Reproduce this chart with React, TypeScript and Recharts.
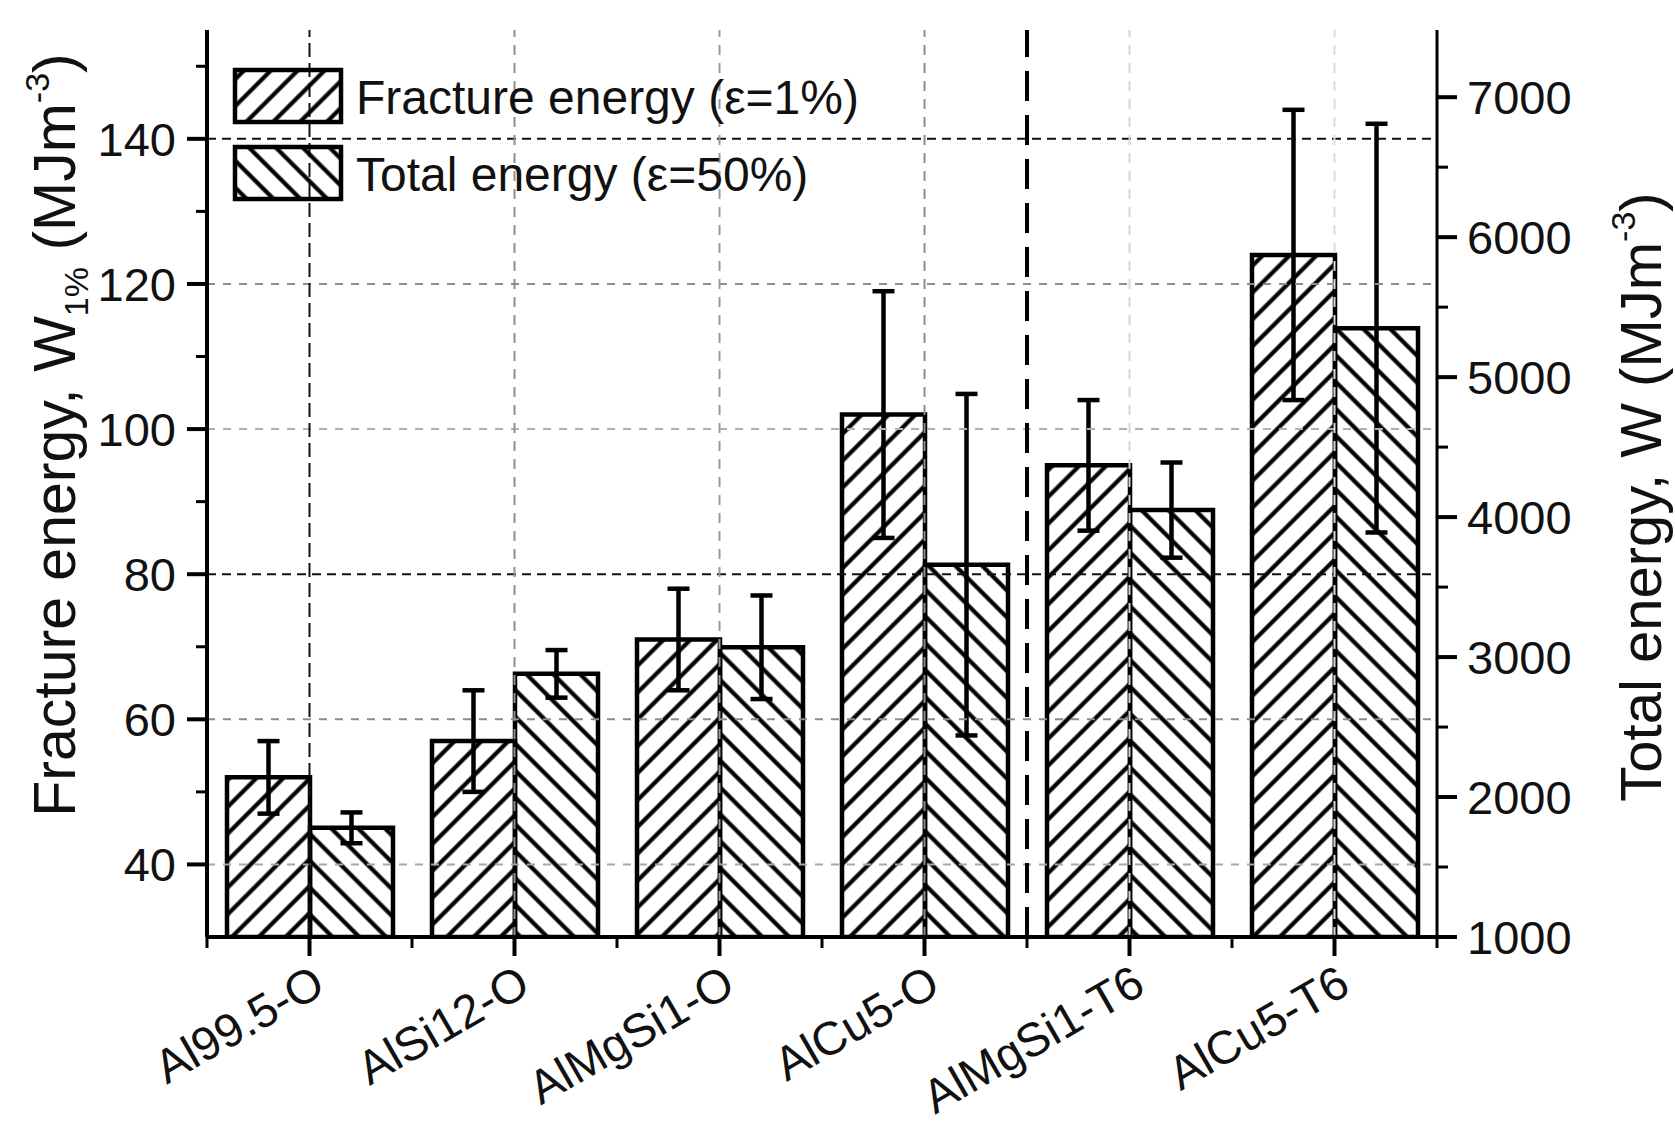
import {
  Bar,
  ComposedChart,
  ErrorBar,
  Legend,
  ReferenceLine,
  XAxis,
  YAxis,
} from "recharts";

const alloys = ["Al99.5-O", "AlSi12-O", "AlMgSi1-O", "AlCu5-O", "AlMgSi1-T6", "AlCu5-T6"];
const fractureEnergy = [52, 57, 71, 102, 95, 124];
const fractureError = [5, 7, 7, 17, 9, 20];
const totalEnergy = [1780, 2880, 3070, 3660, 4050, 5350];
const totalError = [110, 170, 370, 1220, 340, 1460];

const leftTicks = [40, 50, 60, 70, 80, 90, 100, 110, 120, 130, 140, 150];
const leftLabels = [40, 60, 80, 100, 120, 140];
const rightTicks = [1000, 1500, 2000, 2500, 3000, 3500, 4000, 4500, 5000, 5500, 6000, 6500, 7000];
const rightLabels = [1000, 2000, 3000, 4000, 5000, 6000, 7000];

// the alloy groups left of this one are "-O", right of it heat treated
const separatorAfter = "AlCu5-O";

const data = alloys.map((alloy, i) => ({
  alloy,
  fracture: fractureEnergy[i],
  fractureErr: fractureError[i],
  total: totalEnergy[i],
  totalErr: totalError[i],
}));

const W = 1675;
const H = 1127;
const PLOT_LEFT = 207;
const PLOT_RIGHT = 1437;
const PLOT_TOP = 30;
const PLOT_BOTTOM = 937;
const BAND = (PLOT_RIGHT - PLOT_LEFT) / alloys.length;
const FONT = '"Liberation Sans", Arial, Helvetica, sans-serif';
const INK = "#111";

// grid line looks, picked per line to match the scan
const hGrid: Record<number, string> = { 40: "#a8a8a8", 60: "#8c8c8c", 80: "#111", 100: "#b0b0b0", 120: "#8c8c8c", 140: "#111" };
const vGrid = ["#111", "#909090", "#9a9a9a", "#8c8c8c", "#d6d6d6", "#dcdcdc"];

function Hatch({ id, angle }: { id: string; angle: number }) {
  return (
    <pattern id={id} width={19} height={19} patternUnits="userSpaceOnUse" patternTransform={`rotate(${angle})`}>
      <line x1={9.5} y1={-2} x2={9.5} y2={21} stroke="#000" strokeWidth={4.2} />
    </pattern>
  );
}

function LeftTick(props: any) {
  const { payload } = props;
  const y = payload.coordinate;
  const major = leftLabels.includes(payload.value);
  return (
    <g>
      <line x1={PLOT_LEFT} x2={PLOT_LEFT - (major ? 20 : 11)} y1={y} y2={y} stroke="#000" strokeWidth={major ? 4 : 3} />
      {major && (
        <text x={PLOT_LEFT - 31} y={y} dy="0.36em" textAnchor="end" fontSize={47} fill={INK} fontFamily={FONT}>
          {payload.value}
        </text>
      )}
    </g>
  );
}

function RightTick(props: any) {
  const { payload } = props;
  const y = payload.coordinate;
  const major = rightLabels.includes(payload.value);
  return (
    <g>
      <line x1={PLOT_RIGHT} x2={PLOT_RIGHT + (major ? 20 : 11)} y1={y} y2={y} stroke="#000" strokeWidth={major ? 4 : 3} />
      {major && (
        <text x={PLOT_RIGHT + 30} y={y} dy="0.36em" textAnchor="start" fontSize={47} fill={INK} fontFamily={FONT}>
          {payload.value}
        </text>
      )}
    </g>
  );
}

function BottomTick(props: any) {
  const { payload, index } = props;
  const cx = payload.coordinate;
  const tx = cx + 18;
  const ty = PLOT_BOTTOM + 55;
  return (
    <g>
      <line x1={cx} x2={cx} y1={PLOT_BOTTOM} y2={PLOT_BOTTOM + 19} stroke="#000" strokeWidth={4} />
      <line x1={cx - BAND / 2} x2={cx - BAND / 2} y1={PLOT_BOTTOM} y2={PLOT_BOTTOM + 11} stroke="#000" strokeWidth={3} />
      {index === alloys.length - 1 && (
        <line x1={cx + BAND / 2} x2={cx + BAND / 2} y1={PLOT_BOTTOM} y2={PLOT_BOTTOM + 11} stroke="#000" strokeWidth={3} />
      )}
      <text x={tx} y={ty} textAnchor="end" transform={`rotate(-30 ${tx} ${ty})`} fontSize={47} fill={INK} fontFamily={FONT}>
        {payload.value}
      </text>
    </g>
  );
}

function TopTick(props: any) {
  const { payload } = props;
  const cx = payload.coordinate;
  return (
    <g>
      <line x1={cx} x2={cx} y1={PLOT_TOP} y2={PLOT_TOP + 18} stroke="#000" strokeWidth={4} />
      <line x1={cx - BAND / 2} x2={cx - BAND / 2} y1={PLOT_TOP} y2={PLOT_TOP + 11} stroke="#000" strokeWidth={3} />
    </g>
  );
}

function LeftTitle() {
  const x = 75;
  const y = 435;
  return (
    <text x={x} y={y} transform={`rotate(-90 ${x} ${y})`} textAnchor="middle" fontSize={59} fill={INK} fontFamily={FONT}>
      Fracture energy, W
      <tspan fontSize={34} dy={13}>1%</tspan>
      <tspan dy={-13}> (MJm</tspan>
      <tspan fontSize={34} dy={-26}>-3</tspan>
      <tspan dy={26}>)</tspan>
    </text>
  );
}

function RightTitle() {
  const x = 1661;
  const y = 497;
  return (
    <text x={x} y={y} transform={`rotate(-90 ${x} ${y})`} textAnchor="middle" fontSize={58} fill={INK} fontFamily={FONT}>
      Total energy, W (MJm
      <tspan fontSize={34} dy={-26}>-3</tspan>
      <tspan dy={26}>)</tspan>
    </text>
  );
}

function LegendBox(props: any) {
  const items = props.payload ?? [];
  return (
    <svg width={600} height={140} style={{ overflow: "visible" }}>
      <defs>
        <Hatch id="legendFracture" angle={45} />
        <Hatch id="legendTotal" angle={-45} />
      </defs>
      {items.map((item: any, i: number) => (
        <g key={item.value} transform={`translate(0 ${i * 77})`}>
          <rect
            x={2}
            y={2}
            width={106}
            height={52}
            fill={item.dataKey === "fracture" ? "url(#legendFracture)" : "url(#legendTotal)"}
            stroke="#000"
            strokeWidth={4.5}
          />
          <text x={123} y={29} dy="0.36em" fontSize={48} fill={INK} fontFamily={FONT}>
            {item.value}
          </text>
        </g>
      ))}
    </svg>
  );
}

export default function App() {
  return (
    <div style={{ position: "absolute", left: 0, top: 0, width: W, height: H, background: "#fff" }}>
      <ComposedChart
        width={W}
        height={H}
        data={data}
        margin={{ top: PLOT_TOP, right: 0, bottom: 0, left: 0 }}
        barCategoryGap={20}
        barGap={0}
        style={{ fontFamily: FONT }}
      >
        <defs>
          <Hatch id="hatchFracture" angle={45} />
          <Hatch id="hatchTotal" angle={-45} />
        </defs>
        <XAxis
          xAxisId="bottom"
          dataKey="alloy"
          height={H - PLOT_BOTTOM}
          interval={0}
          tickLine={false}
          tick={<BottomTick />}
          axisLine={{ stroke: "#000", strokeWidth: 4 }}
        />
        <XAxis
          xAxisId="top"
          orientation="top"
          dataKey="alloy"
          height={0}
          interval={0}
          tickLine={false}
          tick={<TopTick />}
          axisLine={{ stroke: "#000", strokeWidth: 4 }}
        />
        <YAxis
          yAxisId="left"
          width={PLOT_LEFT}
          domain={[30, 155]}
          allowDataOverflow
          ticks={leftTicks}
          interval={0}
          tickLine={false}
          tick={<LeftTick />}
          axisLine={{ stroke: "#000", strokeWidth: 4 }}
          label={<LeftTitle />}
        />
        <YAxis
          yAxisId="right"
          orientation="right"
          width={W - PLOT_RIGHT}
          domain={[1000, 7480]}
          allowDataOverflow
          ticks={rightTicks}
          interval={0}
          tickLine={false}
          tick={<RightTick />}
          axisLine={{ stroke: "#000", strokeWidth: 3 }}
          label={<RightTitle />}
        />
        <Bar
          xAxisId="bottom"
          yAxisId="left"
          dataKey="fracture"
          name="Fracture energy (ε=1%)"
          fill="url(#hatchFracture)"
          stroke="#000"
          strokeWidth={4.5}
          isAnimationActive={false}
        >
          <ErrorBar dataKey="fractureErr" direction="y" width={11} stroke="#000" strokeWidth={4.5} />
        </Bar>
        <Bar
          xAxisId="bottom"
          yAxisId="right"
          dataKey="total"
          name="Total energy (ε=50%)"
          fill="url(#hatchTotal)"
          stroke="#000"
          strokeWidth={4.5}
          isAnimationActive={false}
        >
          <ErrorBar dataKey="totalErr" direction="y" width={11} stroke="#000" strokeWidth={4.5} />
        </Bar>
        {leftLabels.map((v) => (
          <ReferenceLine
            key={`h${v}`}
            xAxisId="bottom"
            yAxisId="left"
            y={v}
            stroke={hGrid[v]}
            strokeWidth={2}
            strokeDasharray={hGrid[v] === "#111" ? "9 6" : "8 8"}
          />
        ))}
        {alloys.map((a, i) => (
          <ReferenceLine
            key={`v${a}`}
            xAxisId="bottom"
            yAxisId="left"
            x={a}
            stroke={vGrid[i]}
            strokeWidth={2}
            strokeDasharray={i === 0 ? "14 6" : "10 8"}
          />
        ))}
        <ReferenceLine
          xAxisId="bottom"
          yAxisId="left"
          x={separatorAfter}
          position="end"
          stroke="#000"
          strokeWidth={4}
          strokeDasharray="30 14"
        />
        <Legend
          layout="vertical"
          align="center"
          verticalAlign="middle"
          content={<LegendBox />}
          wrapperStyle={{ left: 233, top: 68, width: 600, height: 140 }}
        />
      </ComposedChart>
    </div>
  );
}
